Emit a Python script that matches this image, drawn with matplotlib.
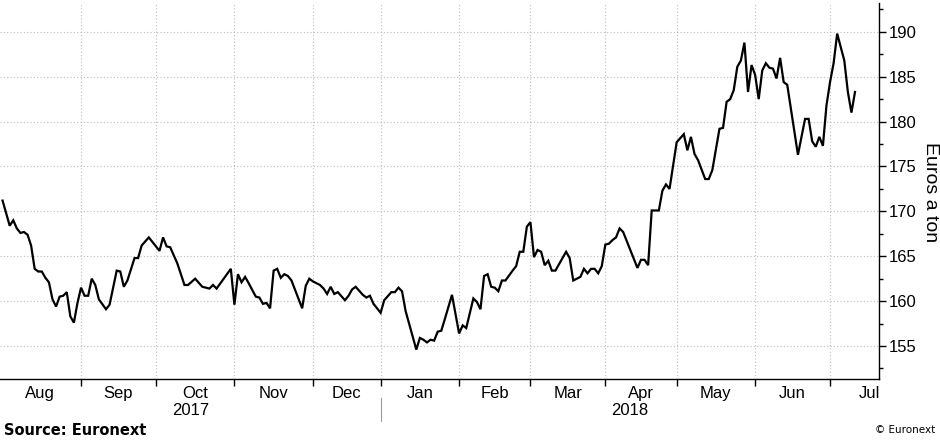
import numpy as np
import matplotlib.pyplot as plt
from matplotlib.transforms import blended_transform_factory

# Euronext wheat price, euros a ton (trading days)
dates = [
    "2017-08-02", "2017-08-04", "2017-08-07", "2017-08-08", "2017-08-09", "2017-08-10",
    "2017-08-11", "2017-08-14", "2017-08-15", "2017-08-16", "2017-08-17", "2017-08-18",
    "2017-08-21", "2017-08-22", "2017-08-23", "2017-08-24", "2017-08-25", "2017-08-28",
    "2017-08-29", "2017-08-30", "2017-08-31", "2017-09-01", "2017-09-04", "2017-09-05",
    "2017-09-06", "2017-09-07", "2017-09-08", "2017-09-12", "2017-09-13", "2017-09-15",
    "2017-09-18", "2017-09-19", "2017-09-20", "2017-09-22", "2017-09-25", "2017-09-26",
    "2017-09-28", "2017-10-03", "2017-10-04", "2017-10-05", "2017-10-06", "2017-10-10",
    "2017-10-12", "2017-10-13", "2017-10-17", "2017-10-19", "2017-10-23", "2017-10-24",
    "2017-10-25", "2017-10-31", "2017-11-01", "2017-11-02", "2017-11-03", "2017-11-06",
    "2017-11-07", "2017-11-09", "2017-11-10", "2017-11-13", "2017-11-14", "2017-11-15",
    "2017-11-16", "2017-11-17", "2017-11-20", "2017-11-21", "2017-11-22", "2017-11-23",
    "2017-11-28", "2017-11-29", "2017-11-30", "2017-12-01", "2017-12-05", "2017-12-06",
    "2017-12-07", "2017-12-08", "2017-12-11", "2017-12-12", "2017-12-14", "2017-12-15",
    "2017-12-18", "2017-12-19", "2017-12-21", "2017-12-22", "2017-12-27", "2017-12-28",
    "2018-01-02", "2018-01-03", "2018-01-05", "2018-01-08", "2018-01-09", "2018-01-10",
    "2018-01-11", "2018-01-16", "2018-01-17", "2018-01-18", "2018-01-19", "2018-01-22",
    "2018-01-23", "2018-01-24", "2018-01-25", "2018-01-26", "2018-01-30", "2018-02-01",
    "2018-02-02", "2018-02-05", "2018-02-07", "2018-02-08", "2018-02-09", "2018-02-12",
    "2018-02-13", "2018-02-14", "2018-02-15", "2018-02-16", "2018-02-19", "2018-02-20",
    "2018-02-22", "2018-02-23", "2018-02-26", "2018-02-27", "2018-02-28", "2018-03-01",
    "2018-03-02", "2018-03-05", "2018-03-06", "2018-03-07", "2018-03-08", "2018-03-09",
    "2018-03-12", "2018-03-15", "2018-03-16", "2018-03-19", "2018-03-21", "2018-03-22",
    "2018-03-23", "2018-03-26", "2018-03-27", "2018-03-28", "2018-03-29", "2018-04-03",
    "2018-04-04", "2018-04-05", "2018-04-06", "2018-04-09", "2018-04-10", "2018-04-16",
    "2018-04-17", "2018-04-18", "2018-04-19", "2018-04-20", "2018-04-24", "2018-04-25",
    "2018-04-26", "2018-04-27", "2018-05-02", "2018-05-04", "2018-05-07", "2018-05-08",
    "2018-05-09", "2018-05-10", "2018-05-14", "2018-05-15", "2018-05-16", "2018-05-18",
    "2018-05-21", "2018-05-22", "2018-05-23", "2018-05-24", "2018-05-25", "2018-05-28",
    "2018-05-29", "2018-05-30", "2018-05-31", "2018-06-01", "2018-06-04", "2018-06-05",
    "2018-06-06", "2018-06-07", "2018-06-08", "2018-06-11", "2018-06-12", "2018-06-13",
    "2018-06-14", "2018-06-19", "2018-06-21", "2018-06-22", "2018-06-25", "2018-06-26",
    "2018-06-27", "2018-06-28", "2018-06-29", "2018-07-02", "2018-07-03", "2018-07-04",
    "2018-07-06", "2018-07-09", "2018-07-10", "2018-07-11",
]
prices = [
    171.2, 168.4, 169.0, 168.1, 167.6, 167.7,
    167.4, 166.2, 163.6, 163.3, 163.3, 162.6,
    162.1, 160.2, 159.4, 160.5, 160.6, 161.0,
    158.3, 157.6, 159.8, 161.5, 160.6, 160.6,
    162.5, 161.8, 160.2, 159.1, 159.6, 163.4,
    163.3, 161.6, 162.3, 164.8, 164.8, 166.2,
    167.1, 165.6, 167.1, 166.1, 166.0, 164.2,
    161.8, 161.8, 162.5, 161.6, 161.4, 161.8,
    161.4, 163.6, 159.6, 163.0, 162.1, 162.7,
    162.0, 160.5, 160.4, 159.7, 159.8, 159.2,
    163.4, 163.6, 162.6, 163.0, 162.8, 162.3,
    159.2, 161.7, 162.5, 162.2, 161.8, 161.4,
    160.8, 161.6, 160.8, 161.0, 160.1, 160.6,
    161.3, 161.6, 160.7, 160.4, 160.6, 159.7,
    158.7, 160.1, 161.0, 161.0, 161.5, 161.1,
    158.9, 154.6, 155.9, 155.7, 155.4, 155.7,
    155.6, 156.6, 156.7, 158.0, 160.7, 156.4,
    157.3, 157.0, 160.3, 159.9, 159.1, 162.8,
    163.0, 161.6, 161.5, 161.1, 162.3, 162.3,
    163.4, 163.9, 165.5, 165.5, 168.3, 168.8,
    164.9, 165.7, 165.5, 164.0, 164.5, 163.4,
    163.4, 165.5, 164.8, 162.3, 162.7, 163.6,
    163.1, 163.6, 163.6, 163.1, 163.9, 166.3,
    166.4, 166.8, 167.1, 168.1, 167.7, 163.7,
    164.6, 164.6, 164.0, 170.1, 170.1, 172.3,
    173.0, 172.5, 177.7, 178.6, 176.8, 178.3,
    176.4, 175.7, 173.6, 173.6, 174.6, 179.2,
    179.3, 182.2, 182.5, 183.5, 186.1, 186.8,
    188.8, 183.3, 186.3, 185.2, 182.5, 185.7,
    186.5, 186.0, 185.9, 184.8, 187.1, 184.4,
    184.1, 176.3, 180.3, 180.3, 177.8, 177.2,
    178.3, 177.3, 181.8, 184.4, 186.5, 189.8,
    186.8, 183.3, 181.0, 183.3,
]
holidays = ["2017-12-25", "2017-12-26", "2018-01-01", "2018-03-30", "2018-04-02", "2018-05-01"]
month_starts = [
    "2017-08-01", "2017-09-01", "2017-10-01", "2017-11-01", "2017-12-01", "2018-01-01",
    "2018-02-01", "2018-03-01", "2018-04-01", "2018-05-01", "2018-06-01", "2018-07-01",
    "2018-08-01",
]
month_labels = ["Aug", "Sep", "Oct", "Nov", "Dec", "Jan", "Feb", "Mar", "Apr", "May", "Jun", "Jul"]
year_labels = ["2017", "2018"]
y_ticks = [155, 160, 165, 170, 175, 180, 185, 190]

plt.rcParams["font.family"] = ["Liberation Sans", "DejaVu Sans"]

# x axis runs on trading days, like the terminal chart
origin = month_starts[0]
x = np.busday_count(origin, dates, holidays=holidays)
bounds = np.busday_count(origin, month_starts, holidays=holidays)
mids = (bounds[:-1] + bounds[1:]) / 2

fig = plt.figure(figsize=(9.4, 4.42), dpi=100)
ax = fig.add_axes([0.0, 0.142, 0.935, 0.851])
ax.plot(x, prices, color="black", lw=1.6, solid_joinstyle="miter")

ax.set_xlim(0.28, 246.7)
ax.set_ylim(151.3, 193.2)

for side in ("top", "left"):
    ax.spines[side].set_visible(False)
for side in ("right", "bottom"):
    ax.spines[side].set_linewidth(1.0)

ax.yaxis.tick_right()
ax.set_yticks(y_ticks)
ax.set_yticks(np.arange(152.5, 193, 5), minor=True)
ax.tick_params(axis="y", which="major", length=5, width=1, labelsize=12, pad=2)
ax.tick_params(axis="y", which="minor", length=3, width=1)

ax.set_xticks(bounds[1:-1])
ax.set_xticklabels([])
ax.set_xticks(mids, minor=True)
ax.set_xticklabels(month_labels, minor=True)
ax.tick_params(axis="x", which="major", length=5, width=1)
ax.tick_params(axis="x", which="minor", length=0, labelsize=12, pad=5)

ax.grid(True, which="major", color="#bdbdbd", lw=0.8, linestyle=(0, (1, 2)))

# year labels centred under each year's span
trans = blended_transform_factory(ax.transData, fig.transFigure)
left, right = ax.get_xlim()
jan = bounds[5]
ax.text((left + jan) / 2, 0.072, year_labels[0], transform=trans,
        ha="center", va="center", fontsize=12)
ax.text((jan + right) / 2, 0.072, year_labels[1], transform=trans,
        ha="center", va="center", fontsize=12)
ax.plot([jan, jan], [0.048, 0.1], transform=trans, color="#999999", lw=0.8, clip_on=False)

fig.text(930 / 940, 1 - 192 / 442, "Euros a ton", rotation=270, ha="center", va="center",
         fontsize=14)
fig.text(0.004, 0.027, "Source: Euronext", ha="left", va="center", fontsize=10.5,
         fontweight="bold", family=["DejaVu Sans"])
fig.text(0.995, 0.027, "© Euronext", ha="right", va="center", fontsize=7.5,
         family=["DejaVu Sans"])

fig.savefig("out.png", dpi=100)
plt.close(fig)
